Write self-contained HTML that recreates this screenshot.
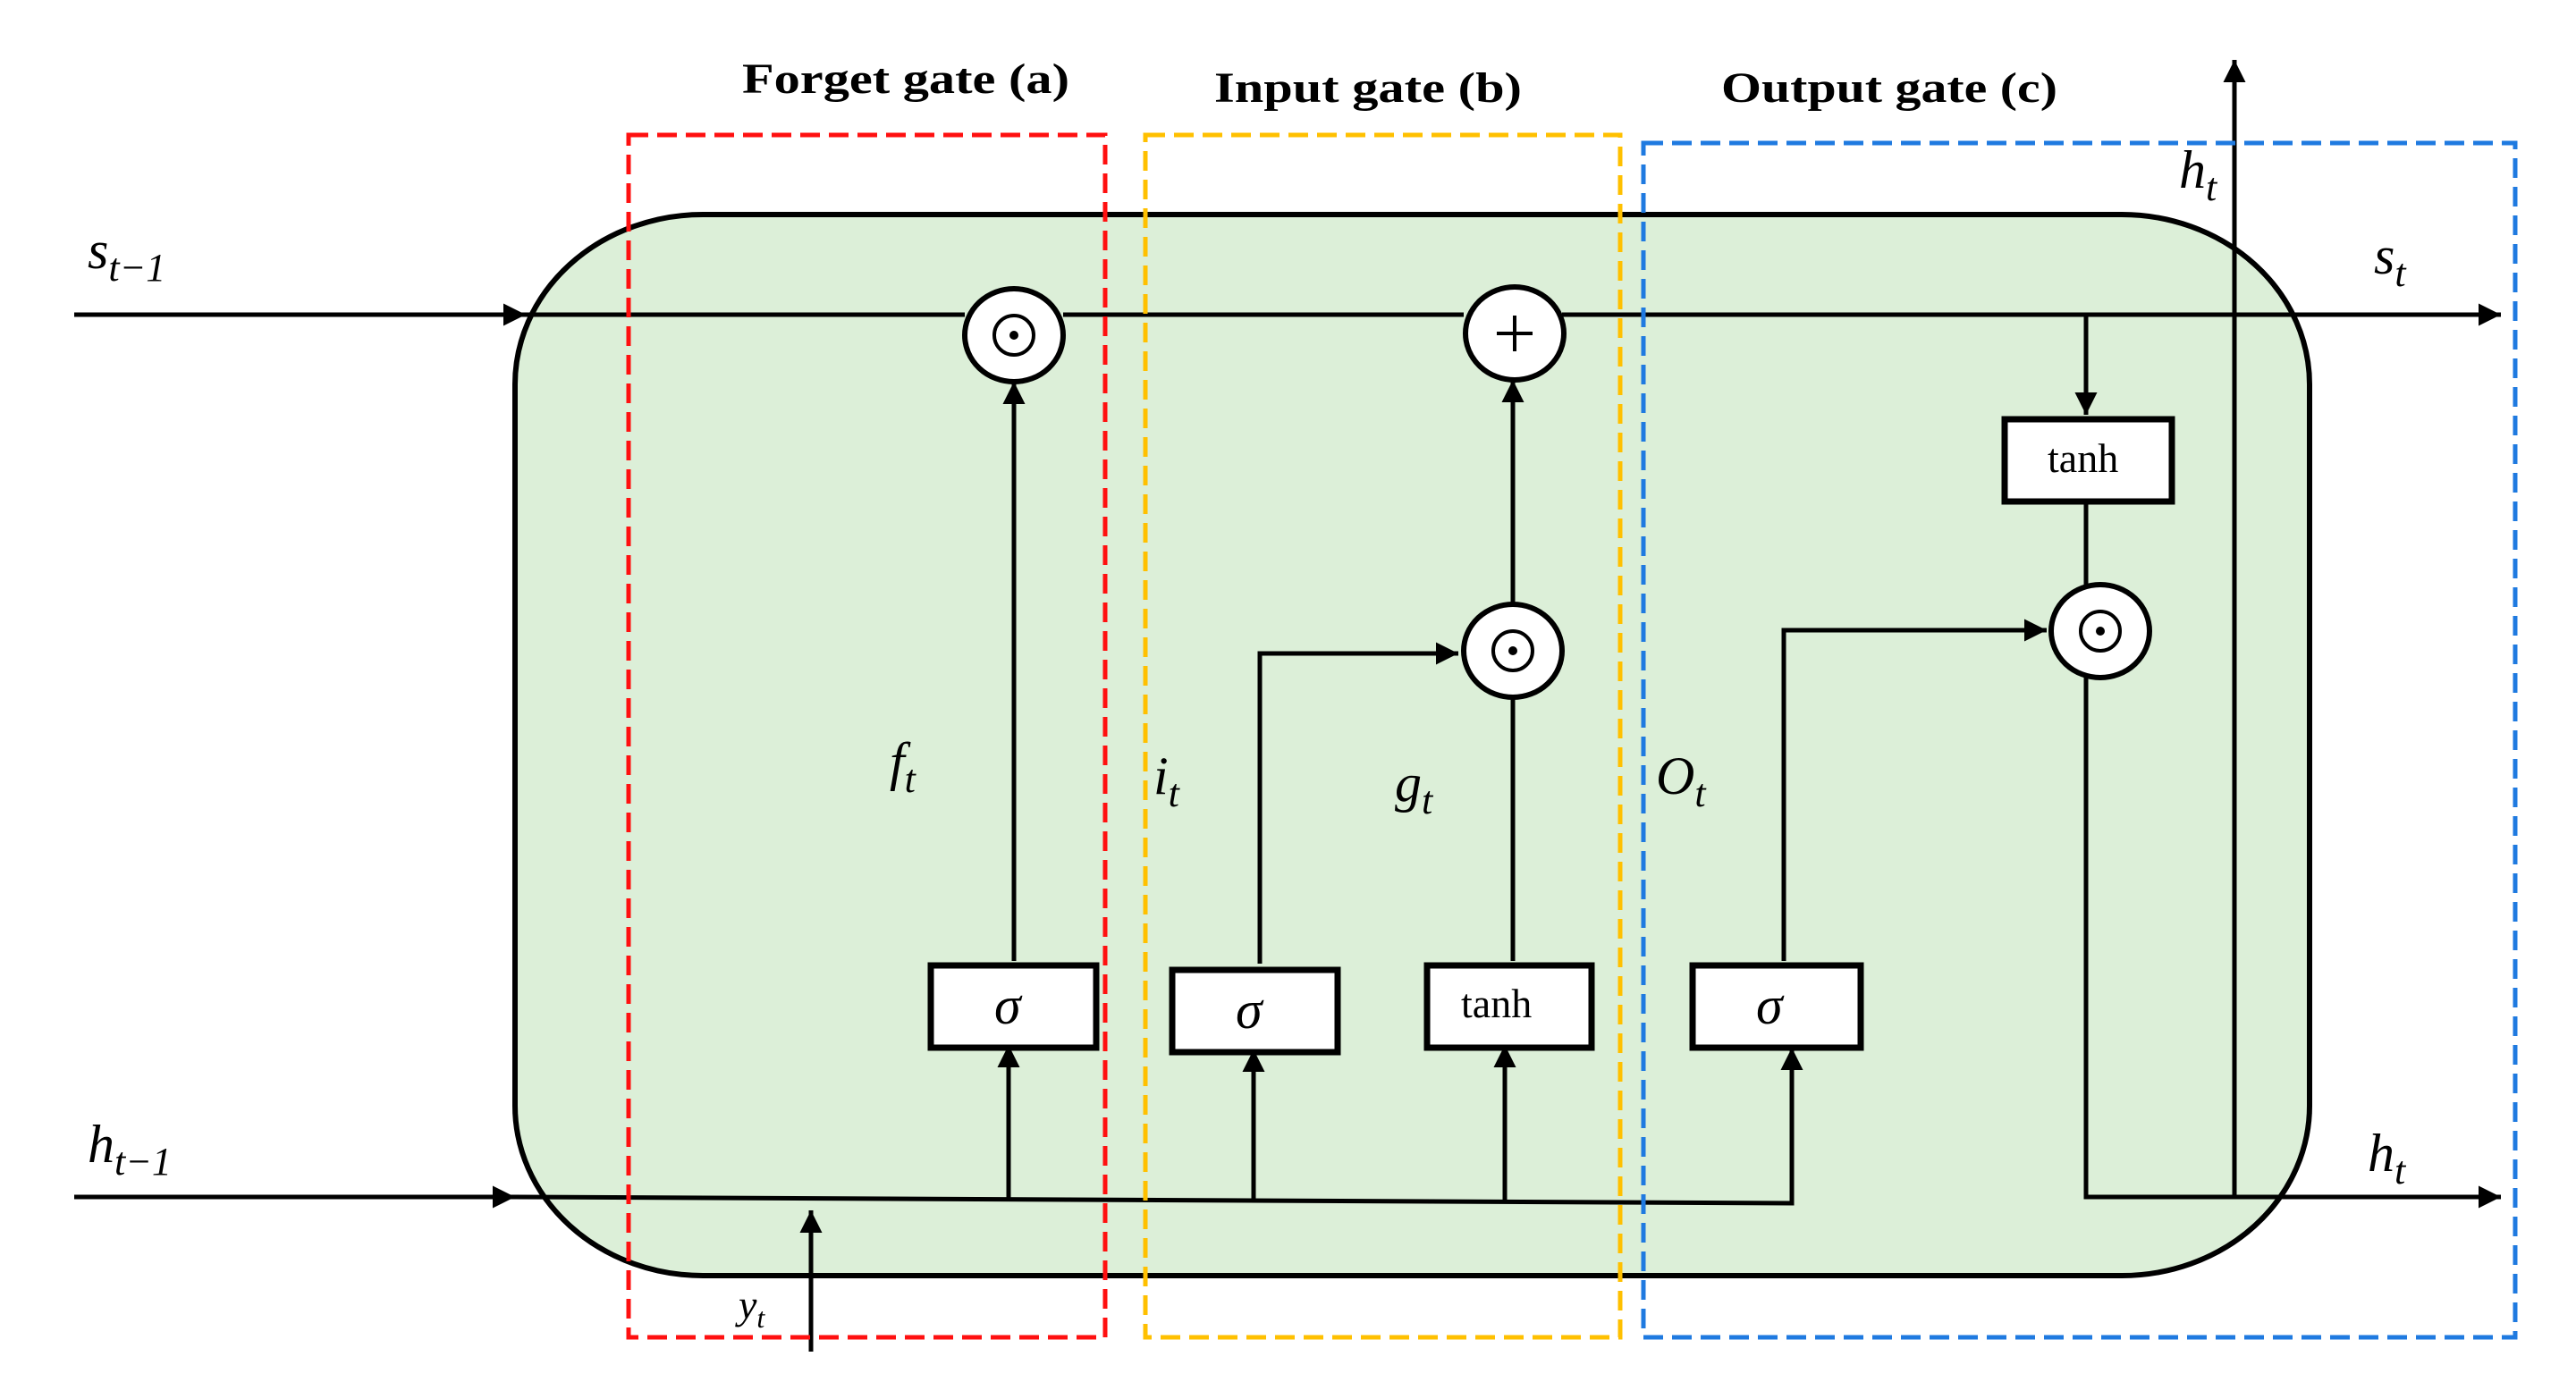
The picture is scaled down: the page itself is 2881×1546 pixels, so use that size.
<!DOCTYPE html>
<html><head><meta charset="utf-8"><style>
html,body{margin:0;padding:0;background:#fff;}
svg{display:block;}
.t{font-family:"Liberation Serif",serif;font-weight:bold;font-size:48px;fill:#000;}
.m{font-family:"Liberation Serif",serif;font-style:italic;font-size:60px;fill:#000;}
.s{font-family:"Liberation Serif",serif;font-style:italic;font-size:44px;}
.b{font-family:"Liberation Serif",serif;font-size:46px;fill:#000;}
</style></head><body>
<svg width="2881" height="1546" viewBox="0 0 2881 1546" xmlns="http://www.w3.org/2000/svg">
<defs>
<marker id="a" viewBox="0 0 10 10" refX="10" refY="5" markerWidth="5" markerHeight="5" orient="auto" markerUnits="strokeWidth"><path d="M0,0 L10,5 L0,10 z" fill="#000"/></marker>
</defs>
<path d="M786,240 H2373 A210,190 0 0 1 2583,430 V1237 A210,190 0 0 1 2373,1427 H786 A210,190 0 0 1 576,1237 V430 A210,190 0 0 1 786,240 Z" fill="#dcefd8" stroke="#000" stroke-width="6"/>
<text class="t" x="830" y="104" textLength="366" lengthAdjust="spacingAndGlyphs">Forget gate (a)</text>
<text class="t" x="1358" y="114" textLength="344" lengthAdjust="spacingAndGlyphs">Input gate (b)</text>
<text class="t" x="1925" y="114" textLength="376" lengthAdjust="spacingAndGlyphs">Output gate (c)</text>
<g fill="none" stroke="#000" stroke-width="5">
<line x1="83" y1="352" x2="588" y2="352" marker-end="url(#a)"/>
<line x1="588" y1="352" x2="1079" y2="352"/>
<line x1="1189" y1="352" x2="1637" y2="352"/>
<line x1="1747" y1="352" x2="2797" y2="352" marker-end="url(#a)"/>
<line x1="83" y1="1339" x2="576" y2="1339" marker-end="url(#a)"/>
<polyline points="576,1339 2004,1346 2004,1172" marker-end="url(#a)"/>
<line x1="1128" y1="1342" x2="1128" y2="1169" marker-end="url(#a)"/>
<line x1="1402" y1="1344" x2="1402" y2="1174" marker-end="url(#a)"/>
<line x1="1683" y1="1345" x2="1683" y2="1169" marker-end="url(#a)"/>
<line x1="907" y1="1512" x2="907" y2="1354" marker-end="url(#a)"/>
<line x1="1134" y1="1075" x2="1134" y2="427" marker-end="url(#a)"/>
<polyline points="1409,1078 1409,731 1631,731" marker-end="url(#a)"/>
<line x1="1692" y1="1075" x2="1692" y2="780"/>
<line x1="1692" y1="676" x2="1692" y2="425" marker-end="url(#a)"/>
<polyline points="1995,1075 1995,705 2289,705" marker-end="url(#a)"/>
<line x1="2333" y1="352" x2="2333" y2="464" marker-end="url(#a)"/>
<line x1="2333" y1="561" x2="2333" y2="655"/>
<polyline points="2333,757 2333,1339 2797,1339" marker-end="url(#a)"/>
<line x1="2499" y1="1339" x2="2499" y2="67" marker-end="url(#a)"/>
</g>
<g fill="none" stroke-width="5" stroke-dasharray="22,10">
<rect x="703" y="151" width="533" height="1345" stroke="#ff1010"/>
<rect x="1281" y="151" width="531" height="1345" stroke="#ffc000"/>
<rect x="1838" y="160" width="975" height="1336" stroke="#1f7ae0"/>
</g>
<g stroke="#000" stroke-width="6" fill="#fff">
<ellipse cx="1134" cy="375" rx="55" ry="52"/>
<ellipse cx="1694" cy="373" rx="55" ry="52"/>
<ellipse cx="1692" cy="728" rx="55" ry="52"/>
<ellipse cx="2349" cy="706" rx="55" ry="52"/>
</g>
<g stroke="#000" stroke-width="4" fill="none">
<circle cx="1134" cy="375" r="22"/>
<circle cx="1692" cy="728" r="22"/>
<circle cx="2349" cy="706" r="22"/>
<line x1="1674" y1="373" x2="1714" y2="373"/><line x1="1694" y1="353" x2="1694" y2="393"/>
</g>
<g fill="#000"><circle cx="1134" cy="375" r="5"/><circle cx="1692" cy="728" r="5"/><circle cx="2349" cy="706" r="5"/></g>
<g stroke="#000" stroke-width="7" fill="#fff">
<rect x="1041" y="1080" width="185" height="92"/>
<rect x="1311" y="1085" width="185" height="92"/>
<rect x="1596" y="1080" width="184" height="92"/>
<rect x="1893" y="1080" width="188" height="92"/>
<rect x="2242" y="469" width="187" height="92"/>
</g>
<text class="m" x="1112" y="1145">σ</text>
<text class="m" x="1382" y="1150">σ</text>
<text class="b" x="1634" y="1138">tanh</text>
<text class="m" x="1964" y="1145">σ</text>
<text class="b" x="2290" y="528">tanh</text>
<text class="m" x="98" y="300">s<tspan class="s" dy="14">t−1</tspan></text>
<text class="m" x="98" y="1300">h<tspan class="s" dy="14">t−1</tspan></text>
<text class="m" x="2655" y="306">s<tspan class="s" dy="14">t</tspan></text>
<text class="m" x="2437" y="210">h<tspan class="s" dy="14">t</tspan></text>
<text class="m" x="2648" y="1310">h<tspan class="s" dy="14">t</tspan></text>
<text class="m" x="995" y="872">f<tspan class="s" dy="14">t</tspan></text>
<text class="m" x="1290" y="888">i<tspan class="s" dy="14">t</tspan></text>
<text class="m" x="1560" y="896">g<tspan class="s" dy="14">t</tspan></text>
<text class="m" x="1852" y="888">O<tspan class="s" dy="14">t</tspan></text>
<text class="m" x="826" y="1475" style="font-size:46px">y<tspan class="s" dy="10" style="font-size:32px">t</tspan></text>
</svg>
</body></html>
